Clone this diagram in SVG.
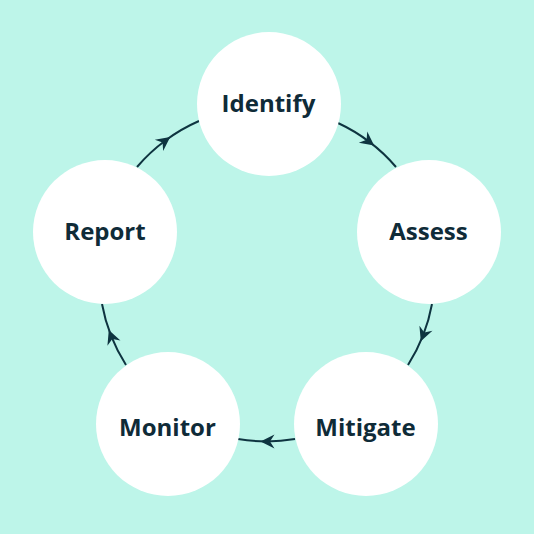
<svg xmlns="http://www.w3.org/2000/svg" width="534" height="534" viewBox="0 0 534 534">
  <style>
    .node circle { fill: #ffffff; }
    .node text { font-family: "Open Sans", "Liberation Sans", sans-serif; font-weight: 700; font-size: 24px; fill: #0f2b38; text-anchor: middle; }
    .conn path { fill: none; stroke: #0e3440; stroke-width: 2; marker-mid: url(#arrow); }
  </style>
  <defs>
    <marker id="arrow" markerUnits="userSpaceOnUse" viewBox="-16 -9 18 18" refX="-6" refY="0" markerWidth="18" markerHeight="18" orient="auto">
      <path d="M0,0 L-14,-7 L-9.5,0 L-14,7 Z" fill="#0e3440"/>
    </marker>
  </defs>
  <rect x="0" y="0" width="534" height="534" fill="#bdf5e9"/>
  <g id="connectors" class="conn">
    <path d="M338,123 A170,170 0 0 1 369.4,141.9 A170,170 0 0 1 396,167"/>
    <path d="M432,304 A170,170 0 0 1 423,335.7 A170,170 0 0 1 408,365"/>
    <path d="M295,439 A170,170 0 0 1 266.5,441.4 A170,170 0 0 1 238,439"/>
    <path d="M126,365 A170,170 0 0 1 111,335.7 A170,170 0 0 1 102,304"/>
    <path d="M137,167 A170,170 0 0 1 165.4,140.5 A170,170 0 0 1 199,121"/>
  </g>
  <g id="identify" class="node">
    <circle cx="269" cy="104" r="72"/>
    <text x="268.5" y="112">Identify</text>
  </g>
  <g id="assess" class="node">
    <circle cx="429" cy="232" r="72"/>
    <text x="428.5" y="240">Assess</text>
  </g>
  <g id="mitigate" class="node">
    <circle cx="366" cy="424" r="72"/>
    <text x="365.5" y="436">Mitigate</text>
  </g>
  <g id="monitor" class="node">
    <circle cx="168" cy="424" r="72"/>
    <text x="167.5" y="436">Monitor</text>
  </g>
  <g id="report" class="node">
    <circle cx="105" cy="232" r="72"/>
    <text x="105" y="240">Report</text>
  </g>
</svg>
